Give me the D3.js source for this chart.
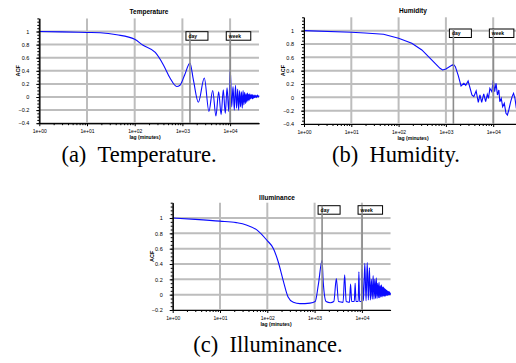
<!DOCTYPE html>
<html>
<head>
<meta charset="utf-8">
<script src="https://cdn.jsdelivr.net/npm/d3@7/dist/d3.min.js"></script>
<style>
  body { margin: 0; background: #fff; overflow: hidden; }
  svg { display: block; }
  text { fill: #000; }
  .tick text { font-family: "Liberation Sans", Arial, sans-serif; fill: #000; }
  .caption { font-family: "Liberation Serif", "Times New Roman", serif; font-size: 22.5px; fill: #000; }
</style>
</head>
<body>
<div id="chart"></div>
<script>
// lag in minutes, autocorrelation value
const temperature = [
  [1, 1.0], [3, 0.995], [10, 0.985], [19, 0.98], [42, 0.95], [100, 0.88], [150, 0.79],
  [270, 0.68], [400, 0.49], [550, 0.29], [760, 0.16], [890, 0.18], [1120, 0.34],
  [1440, 0.52], [1700, 0.26], [2160, -0.08], [2880, 0.29], [3600, -0.22], [4320, 0.1],
  [5040, -0.29], [5760, 0.08], [6480, -0.27], [7200, 0.11], [7920, -0.25], [8640, 0.14],
  [9360, -0.22], [10080, 0.43], [10800, -0.15], [11520, 0.16], [12240, -0.2], [12960, 0.18],
  [13680, -0.17], [14400, 0.12], [15120, -0.2], [15840, 0.1], [16560, -0.15], [17280, 0.08],
  [18000, -0.17], [18720, 0.1], [19440, -0.12], [20160, 0.07], [20880, -0.1], [21600, 0.05],
  [22320, -0.08], [23040, 0.06], [23760, -0.06], [24480, 0.04], [25200, -0.05], [25920, 0.05],
  [26640, -0.03], [27360, 0.03], [28080, -0.02], [28800, 0.04], [29520, -0.03], [30240, 0.03],
  [30960, -0.02], [31680, 0.02], [32400, -0.01], [33120, 0.03], [33840, 0.0], [34560, 0.02],
  [35280, -0.01], [36000, 0.02], [36720, 0.0], [37440, 0.03], [38160, 0.01], [38880, 0.02],
  [39600, 0.0], [40320, 0.02]
];

const humidity = [
  [1, 1.0], [10, 0.975], [19.5, 0.965], [48, 0.945], [100, 0.885], [190, 0.81], [310, 0.71],
  [500, 0.56], [750, 0.435], [850, 0.41], [1000, 0.425], [1440, 0.495], [1585, 0.46],
  [1820, 0.33], [2090, 0.17], [2400, 0.21], [2630, 0.18], [2950, 0.245], [3550, 0.035],
  [3890, 0.01], [4360, 0.095], [4840, -0.075], [5250, 0.035], [5710, -0.075], [6310, 0.05],
  [6920, -0.065], [7500, 0.045], [7940, -0.015], [8510, 0.135], [9330, 0.085], [10080, 0.26],
  [10720, 0.085], [11480, 0.21], [12300, 0.035], [13180, 0.11], [13800, -0.065], [14790, -0.015],
  [15850, -0.14], [17180, -0.09], [18620, -0.24], [19950, -0.265], [21380, -0.19], [23440, -0.065],
  [25120, 0.01], [26920, 0.06], [28840, -0.015], [30900, -0.165], [33000, -0.1], [36000, -0.05],
  [40320, 0.0]
];

const illuminance = [
  [1, 1.0], [3, 0.983], [10, 0.96], [22, 0.94], [36, 0.91], [60, 0.845], [98, 0.71],
  [135, 0.6], [170, 0.43], [220, 0.17], [275, -0.03], [355, -0.1], [490, -0.117], [800, -0.11],
  [1030, -0.09], [1200, 0.13], [1440, 0.45], [1520, 0.17], [1750, -0.09], [2150, -0.105],
  [2550, -0.09], [2880, 0.21], [3200, -0.09], [4000, -0.1], [4320, 0.26], [4650, -0.09],
  [5450, -0.1], [5760, 0.14], [6080, -0.09], [6900, -0.09], [7200, 0.15], [7500, -0.09],
  [8350, -0.09], [8640, 0.3], [8930, -0.09], [9800, -0.09], [10080, 0.33], [10800, -0.08],
  [11520, 0.41], [12240, -0.08], [12960, 0.42], [13680, -0.07], [14400, 0.35], [15120, -0.07],
  [15840, 0.2], [16560, -0.06], [17280, 0.25], [18000, -0.06], [18720, 0.2], [19440, -0.05],
  [20160, 0.22], [20880, -0.05], [21600, 0.15], [22320, -0.04], [23040, 0.16], [23760, -0.04],
  [24480, 0.12], [25200, -0.03], [25920, 0.13], [26640, -0.03], [27360, 0.1], [28080, -0.02],
  [28800, 0.1], [29520, -0.02], [30240, 0.08], [30960, -0.02], [31680, 0.07], [32400, -0.01],
  [33120, 0.06], [33840, -0.01], [34560, 0.05], [35280, -0.01], [36000, 0.04], [36720, 0.0],
  [37440, 0.04], [38160, 0.0], [38880, 0.03], [39600, 0.0], [40320, 0.02]
];

const xTicks = [1, 10, 100, 1000, 10000];
const xTickLabels = ['1e+00', '1e+01', '1e+02', '1e+03', '1e+04'];
const maxLag = 40320;
const markers = [{ label: 'day', lag: 1440, w: 22 }, { label: 'week', lag: 10080, w: 24.5 }];

const panels = [
  { title: 'Temperature', data: temperature, yMin: -0.4, left: 39.3, decade: 47.7, top: 18.4, bottom: 123.2,
    titleX: 149, titleY: 13.5, labelX: 145, labelY: 139, boxTop: 31.7, curve: d3.curveMonotoneX },
  { title: 'Humidity', data: humidity, yMin: -0.4, left: 304, decade: 47.3, top: 17.3, bottom: 124,
    titleX: 413, titleY: 13, labelX: 413, labelY: 139.5, boxTop: 29, curve: d3.curveLinear },
  { title: 'Illuminance', data: illuminance, yMin: -0.2, left: 172.7, decade: 47.3, top: 202.7, bottom: 310,
    titleX: 277, titleY: 199.7, labelX: 276, labelY: 325.5, boxTop: 205.7, curve: d3.curveMonotoneX }
];

const captions = [
  { text: '(a)\u2002Temperature.', x: 139, y: 162 },
  { text: '(b)\u2002Humidity.', x: 396, y: 162 },
  { text: '(c)\u2002Illuminance.', x: 268, y: 351.5 }
];

const svg = d3.select('#chart').append('svg')
  .attr('width', 516)
  .attr('height', 363);

panels.forEach(p => {
  const x = d3.scaleLog().domain([1, maxLag]).range([p.left, p.left + p.decade * Math.log10(maxLag)]);
  const y = d3.scaleLinear().domain([p.yMin, 1.2]).range([p.bottom, p.top]);
  const yTicks = d3.range(p.yMin, 1.0001, 0.2).map(v => Math.round(v * 10) / 10);
  const g = svg.append('g');

  // grid
  g.selectAll('.vgrid').data(xTicks).enter().append('line')
    .attr('x1', d => x(d)).attr('x2', d => x(d))
    .attr('y1', p.top).attr('y2', p.bottom)
    .style('stroke', '#bdbdbd').style('stroke-width', 2);
  g.selectAll('.hgrid').data(yTicks).enter().append('line')
    .attr('x1', p.left).attr('x2', x(maxLag))
    .attr('y1', d => y(d)).attr('y2', d => y(d))
    .style('stroke', '#bdbdbd').style('stroke-width', 2);

  // acf curve
  const line = d3.line()
    .x(d => x(d[0]))
    .y(d => y(d[1]))
    .curve(p.curve);
  g.append('path')
    .datum(p.data)
    .attr('d', line)
    .style('fill', 'none')
    .style('stroke', '#0a0aff')
    .style('stroke-width', 1.1);

  // day / week markers
  markers.forEach(m => {
    const mx = x(m.lag);
    g.append('rect')
      .attr('x', mx - 4).attr('y', p.boxTop)
      .attr('width', m.w).attr('height', 8.5)
      .style('fill', '#fff').style('stroke', '#000').style('stroke-width', 1);
    g.append('line')
      .attr('x1', mx).attr('x2', mx)
      .attr('y1', p.boxTop).attr('y2', p.bottom)
      .style('stroke', '#8c8c8c').style('stroke-width', 1.6);
    g.append('text')
      .attr('x', mx - 1.5).attr('y', p.boxTop + 6)
      .style('font-family', '"Liberation Sans", Arial, sans-serif')
      .style('font-size', '5px').style('font-weight', 'bold')
      .text(m.label);
  });

  // axes
  const xAxis = g.append('g')
    .attr('transform', `translate(0,${p.bottom})`)
    .call(d3.axisBottom(x).tickValues(xTicks).tickFormat((d, i) => xTickLabels[i]).tickSize(3).tickSizeOuter(0));
  xAxis.selectAll('text').style('font-size', '5px');
  g.append('g')
    .attr('transform', `translate(0,${p.bottom})`)
    .call(d3.axisBottom(x)
      .tickValues(d3.range(1, 5).flatMap(e => d3.range(2, 10).map(k => k * Math.pow(10, e - 1))).filter(v => v < maxLag))
      .tickFormat('').tickSize(2).tickSizeOuter(0));

  const yAxis = g.append('g')
    .attr('transform', `translate(${p.left},0)`)
    .call(d3.axisLeft(y).tickValues(yTicks).tickFormat(d3.format('')).tickSize(3).tickSizeOuter(0).tickPadding(7));
  yAxis.selectAll('text').style('font-size', '5.5px');
  g.append('g')
    .attr('transform', `translate(${p.left},0)`)
    .call(d3.axisLeft(y).tickValues(d3.range(p.yMin, 1.2001, 0.05)).tickFormat('').tickSize(2).tickSizeOuter(0));
  g.selectAll('.domain').style('stroke', '#000').style('stroke-width', 1);
  g.selectAll('.tick line').style('stroke', '#000');

  // labels
  g.append('text')
    .attr('x', p.titleX).attr('y', p.titleY)
    .attr('text-anchor', 'middle')
    .style('font-family', '"Liberation Sans", Arial, sans-serif')
    .style('font-size', '6.5px').style('font-weight', 'bold')
    .text(p.title);
  g.append('text')
    .attr('x', p.labelX).attr('y', p.labelY)
    .attr('text-anchor', 'middle')
    .style('font-family', '"Liberation Sans", Arial, sans-serif')
    .style('font-size', '5px').style('font-weight', 'bold')
    .text('lag (minutes)');
  g.append('text')
    .attr('transform', `translate(${p.left - 19},${(y(1.2) + y(p.yMin)) / 2}) rotate(-90)`)
    .attr('text-anchor', 'middle')
    .style('font-family', '"Liberation Sans", Arial, sans-serif')
    .style('font-size', '5.5px').style('font-weight', 'bold')
    .text('ACF');
});

svg.selectAll('.caption').data(captions).enter().append('text')
  .attr('class', 'caption')
  .attr('x', d => d.x).attr('y', d => d.y)
  .attr('text-anchor', 'middle')
  .text(d => d.text);
</script>
</body>
</html>
